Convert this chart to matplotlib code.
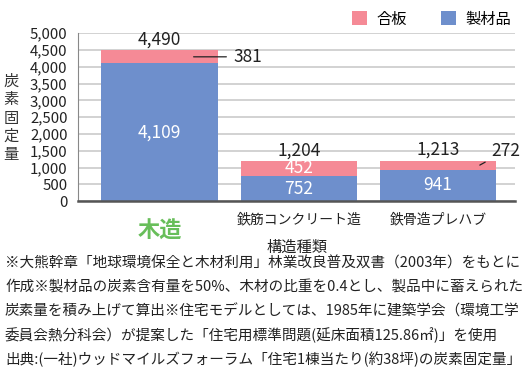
import matplotlib
matplotlib.use("Agg")
import matplotlib.pyplot as plt
from matplotlib.patches import Patch
from matplotlib.ticker import FuncFormatter

plt.rcParams['font.family'] = ['Noto Sans CJK JP', 'DejaVu Sans']

categories = ['木造', '鉄筋コンクリート造', '鉄骨造プレハブ']
lumber = [4109, 752, 941]      # 製材品
plywood = [381, 452, 272]      # 合板
totals = [4490, 1204, 1213]
yticks = list(range(0, 5001, 500))

notes = [
    "※大熊幹章「地球環境保全と木材利用」林業改良普及双書（2003年）をもとに",
    "作成※製材品の炭素含有量を50%、木材の比重を0.4とし、製品中に蓄えられた",
    "炭素量を積み上げて算出※住宅モデルとしては、1985年に建築学会（環境工学",
    "委員会熱分科会）が提案した「住宅用標準問題(延床面積125.86㎡)」を使用",
    "出典:(一社)ウッドマイルズフォーラム「住宅1棟当たり(約38坪)の炭素固定量」",
]

BLUE = '#6E8FCC'
PINK = '#F58A96'
GREEN = '#68BE5A'
TXT = '#222222'

fig = plt.figure(figsize=(5.24, 3.92), dpi=100)
ax = fig.add_axes([0.1489, 0.4865, 0.834, 0.4286])

x = list(range(len(categories)))
w = 0.835
ax.bar(x, lumber, width=w, color=BLUE, zorder=3)
ax.bar(x, plywood, width=w, bottom=lumber, color=PINK, zorder=3)

ax.set_xlim(-0.585, 2.553)
ax.set_ylim(0, 5000)
ax.set_yticks(yticks)
ax.yaxis.set_major_formatter(FuncFormatter(lambda v, p: f"{int(v):,}"))
ax.tick_params(axis='y', length=0, pad=7.5, labelsize=10.8, colors=TXT)
ax.tick_params(axis='x', length=0, pad=8)
ax.grid(axis='y', color='#cfcfcf', linewidth=1.3, zorder=0)
for s in ['top', 'right']:
    ax.spines[s].set_visible(False)
ax.spines['left'].set_color('#888888')
ax.spines['left'].set_linewidth(0.8)
ax.spines['bottom'].set_color('#555555')
ax.spines['bottom'].set_linewidth(1.8)
ax.spines['bottom'].set_zorder(4)

ax.set_xticks(x)
ax.set_xticklabels(categories)
for i, lbl in enumerate(ax.get_xticklabels()):
    if i == 0:
        lbl.set_color(GREEN)
        lbl.set_fontsize(16)
        lbl.set_fontweight('bold')
        lbl.set_va('center')
        lbl.set_y(-0.112)
    else:
        lbl.set_fontsize(10)
        lbl.set_color(TXT)

ax.set_xlabel('構造種類', fontsize=11, color=TXT)
ax.xaxis.set_label_coords(0.5, -0.222)
fig.text(11 / 524, 1 - 118 / 392, '\n'.join('炭素固定量'), ha='center', va='center',
         fontsize=11, linespacing=1.1, color='#333333')

# totals
for xi, t in zip(x, totals):
    ax.text(xi, t + 45, f"{t:,}", ha='center', va='bottom', fontsize=12.5, color=TXT)

# inner labels
ax.text(0, lumber[0] / 2, f"{lumber[0]:,}", ha='center', va='center', fontsize=12.5, color='white', zorder=5)
ax.text(1, lumber[1] / 2, f"{lumber[1]:,}", ha='center', va='center', fontsize=12.5, color='white', zorder=5)
ax.text(1, lumber[1] + plywood[1] / 2, f"{plywood[1]:,}", ha='center', va='center', fontsize=12.5, color='white', zorder=5)
ax.text(2, lumber[2] / 2, f"{lumber[2]:,}", ha='center', va='center', fontsize=12.5, color='white', zorder=5)

# callouts
m0 = lumber[0] + plywood[0] / 2
ax.annotate(f"{plywood[0]:,}", xy=(0.245, m0), xytext=(0.53, m0), ha='left', va='center',
            fontsize=12.5, color=TXT,
            arrowprops=dict(arrowstyle='-', color=TXT, lw=0.9, shrinkA=3, shrinkB=0))
m2 = lumber[2] + plywood[2] / 2
ax.annotate(f"{plywood[2]:,}", xy=(2.3, m2), xytext=(2.385, m2 + 430), ha='left', va='center',
            fontsize=12.5, color=TXT,
            arrowprops=dict(arrowstyle='-', color=TXT, lw=0.9, shrinkA=3, shrinkB=0))

handles = [Patch(facecolor=PINK, edgecolor='none', label='合板'),
           Patch(facecolor=BLUE, edgecolor='none', label='製材品')]
fig.legend(handles=handles, ncol=2, frameon=False, loc='center right',
           bbox_to_anchor=(0.975, 1 - 19 / 392), fontsize=11,
           handlelength=1.0, handleheight=1.0, handletextpad=0.6, columnspacing=2.2,
           borderaxespad=0, borderpad=0)

y0 = 1 - 264 / 392
for i, line in enumerate(notes):
    fig.text(5 / 524, y0 - i * 23.8 / 392, line, ha='left', va='center', fontsize=10.5,
             color=TXT)

fig.savefig('out.png', dpi=100)
